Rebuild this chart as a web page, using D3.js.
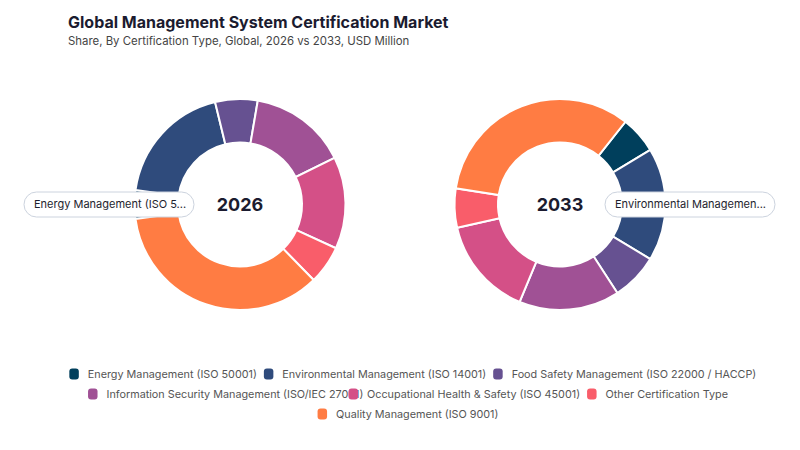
<!DOCTYPE html>
<meta charset="utf-8">
<style>
body{
    margin: 0;
    background: #fff;
}
svg text{
    font-family: Inter, "Noto Sans", sans-serif;
}
</style>
<body>
    <div class="chart"></div>
    <script src="https://d3js.org/d3.v7.min.js"></script>
    <script>
        // data (share of total, %)
        const categories = [
            "Energy Management (ISO 50001)",
            "Environmental Management (ISO 14001)",
            "Food Safety Management (ISO 22000 / HACCP)",
            "Information Security Management (ISO/IEC 27001)",
            "Occupational Health & Safety (ISO 45001)",
            "Other Certification Type",
            "Quality Management (ISO 9001)"
        ];
        const years = ["2026", "2033"];
        const values2026 = [4.4, 19.0, 6.5, 15.0, 14.1, 5.9, 35.1];
        const values2033 = [5.7, 17.3, 7.2, 15.4, 15.2, 6.0, 33.2];
        const highlighted = ["Energy Management (ISO 50001)", "Environmental Management (ISO 14001)"];
        const colors = ["#003f5c", "#2f4b7c", "#665191", "#a05195", "#d45087", "#f95d6a", "#ff7c43"];

        const width = 800;
        const height = 450;
        const outerR = 105.5;
        const innerR = 62;
        const centersX = [240, 560];
        const centerY = 204.5;
        const labelSide = [-1, 1];   // pill left of 2026, right of 2033

        const svg = d3.select(".chart")
                    .append("svg")
                    .attr("width", width)
                    .attr("height", height);

        svg.append("text")
            .attr("x", 68)
            .attr("y", 28)
            .style("font-size", "16px")
            .style("font-weight", "700")
            .style("fill", "#1b1b2f")
            .text("Global Management System Certification Market");
        svg.append("text")
            .attr("x", 68)
            .attr("y", 45)
            .style("font-size", "11.4px")
            .style("fill", "#444")
            .text("Share, By Certification Type, Global, 2026 vs 2033, USD Million");

        const color = d3.scaleOrdinal().domain(categories).range(colors);
        const arc = d3.arc().innerRadius(innerR).outerRadius(outerR);
        const allValues = [values2026, values2033];

        years.forEach((year, i) => {
            const rows = categories.map((c, k) => ({name: c, value: allValues[i][k]}));
            // rotate so the highlighted slice sits in the middle of the label side
            const total = d3.sum(rows, d => d.value);
            const idx = categories.indexOf(highlighted[i]);
            const before = d3.sum(rows.slice(0, idx), d => d.value);
            const midFrac = (before + rows[idx].value / 2) / total;
            const target = labelSide[i] < 0 ? 1.5 * Math.PI : 0.5 * Math.PI;
            const start = target - midFrac * 2 * Math.PI;

            const pie = d3.pie()
                        .sort(null)
                        .value(d => d.value)
                        .startAngle(start)
                        .endAngle(start + 2 * Math.PI);

            const g = svg.append("g")
                        .attr("transform", `translate(${centersX[i]},${centerY})`);
            g.selectAll("path")
                .data(pie(rows))
                .join("path")
                .attr("d", arc)
                .style("fill", d => color(d.data.name))
                .style("stroke", "#fff")
                .style("stroke-width", "2");

            g.append("text")
                .attr("text-anchor", "middle")
                .attr("dy", "0.36em")
                .style("font-size", "18px")
                .style("font-weight", "700")
                .style("fill", "#1b1b2f")
                .text(year);

            // pill label
            const pillW = 170, pillH = 25;
            const pillX = labelSide[i] < 0 ? -46 - pillW : 45;
            const pill = g.append("g").attr("transform", `translate(${pillX},${-pillH / 2})`);
            pill.append("rect")
                .attr("width", pillW)
                .attr("height", pillH)
                .attr("rx", 12.5)
                .style("fill", "#fff")
                .style("stroke", "#ccd3de")
                .style("stroke-width", "1");
            const t = pill.append("text")
                .attr("x", 10)
                .attr("y", pillH / 2)
                .attr("dy", "0.35em")
                .style("font-size", "11px")
                .style("fill", "#1e1e2e")
                .text(highlighted[i]);
            let s = highlighted[i];
            while (t.node().getComputedTextLength() > pillW - 16 && s.length > 1) {
                s = s.slice(0, -1);
                t.text(s.trimEnd() + "...");
            }
        });

        // legend, wrapped rows, centred
        const legend = svg.append("g");
        const maxText = 235;
        const maxRow = 700;
        const items = categories.map(c => {
            const it = legend.append("g");
            it.append("rect")
                .attr("width", 9.5)
                .attr("height", 11)
                .attr("y", -5.5)
                .attr("rx", 3)
                .style("fill", color(c));
            const tx = it.append("text")
                .attr("x", 18.5)
                .attr("dy", "0.35em")
                .style("font-size", "10.8px")
                .style("fill", "#555")
                .text(c);
            const w = Math.min(tx.node().getComputedTextLength(), maxText);
            return {g: it, w: 18.5 + w + 7};
        });
        const lines = [[]];
        let run = 0;
        items.forEach(it => {
            if (run + it.w > maxRow && lines[lines.length - 1].length) {
                lines.push([]);
                run = 0;
            }
            lines[lines.length - 1].push(it);
            run += it.w;
        });
        lines.forEach((line, r) => {
            const lw = d3.sum(line, d => d.w) - 7;
            let x = 408 - lw / 2;
            line.forEach(it => {
                it.g.attr("transform", `translate(${x},${374 + r * 20})`);
                x += it.w;
            });
        });
    </script>
</body>
</html>
